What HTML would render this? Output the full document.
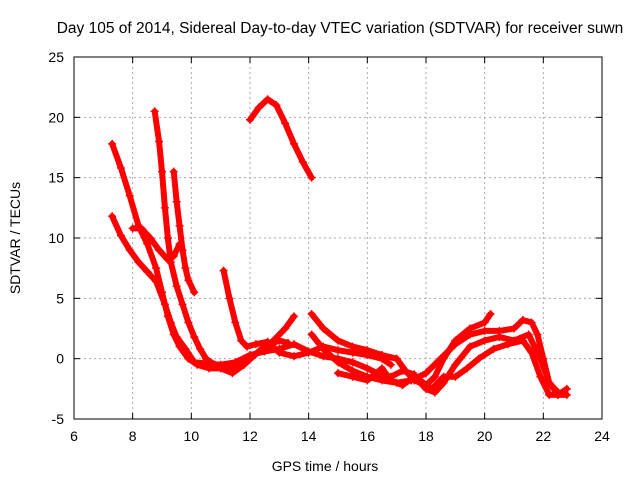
<!DOCTYPE html>
<html><head><meta charset="utf-8"><style>
body{margin:0;background:#fff}
svg{display:block;font-family:"Liberation Sans",sans-serif}
</style></head><body>
<svg id="chart" width="640" height="480">
<text x="340" y="33" text-anchor="middle" font-size="15.5">Day 105 of 2014, Sidereal Day-to-day VTEC variation (SDTVAR) for receiver suwn</text>
<text x="325" y="471" text-anchor="middle" font-size="14">GPS time / hours</text>
<text transform="translate(20,238) rotate(-90)" text-anchor="middle" font-size="14">SDTVAR / TECUs</text>
<g id="grid"></g><g id="ticks"></g><g id="marks"></g>
<rect x="74" y="57" width="528" height="362" fill="none" stroke="#000" stroke-width="1"/>
</svg>
<script>
const xTicks=[6,8,10,12,14,16,18,20,22,24];
const yTicks=[-5,0,5,10,15,20,25];
const sA=[[12.0,19.8],[12.3,20.8],[12.6,21.5],[12.9,21],[13.2,19.5],[13.5,17.8],[13.8,16.3],[14.1,15.0]];
const sB=[[7.3,17.8],[7.6,15.8],[7.9,13.5],[8.2,11],[8.5,9.5],[8.8,7.5],[9.0,5.5],[9.2,3.5],[9.4,2],[9.6,1],[9.9,0],[10.2,-0.5],[10.6,-0.8],[11.0,-0.8],[11.4,-1.2],[11.8,-0.5],[12.3,0.6],[12.8,1.5],[13.2,2.5],[13.5,3.5]];
const sC=[[7.3,11.8],[7.6,10.2],[7.9,9],[8.2,8],[8.5,7.2],[8.8,6.4],[9.1,4.5],[9.3,3],[9.5,1.8],[9.8,0.8],[10.1,-0.3],[10.5,-0.4],[11.0,-0.5],[11.5,-0.3],[12.0,0.3],[12.5,0.6],[13.0,0.8],[13.5,1.2],[14,0.6],[14.5,0.2],[15,0],[15.5,-0.3],[16,-0.8],[16.4,-1.3],[16.8,-1.5],[17.2,-1.0],[17.6,-1.3]];
const sD=[[8.0,10.8],[8.3,10.8],[8.6,10],[8.9,9],[9.2,8.2],[9.4,8.5],[9.6,9.5]];
const sE=[[8.75,20.5],[8.9,18],[9.0,15.5],[9.1,12.5],[9.2,10],[9.3,8],[9.5,6],[9.7,4.5],[9.9,3],[10.1,1.8],[10.3,0.8],[10.5,0],[10.8,-0.5],[11.1,-0.8],[11.5,-0.8],[12,0],[12.5,1],[13,1.5],[13.3,1.3]];
const sF=[[9.4,15.5],[9.5,13],[9.6,11],[9.7,9],[9.8,7.5],[9.9,6.5],[10.1,5.5]];
const sG=[[11.1,7.3],[11.3,5],[11.5,3],[11.7,1.5],[11.9,1],[12.2,1.2],[12.6,1.4],[13,0.5],[13.5,0.2],[14,0.5],[14.5,1],[15,0.7],[15.5,0.5],[16,0.3],[16.5,0.0],[16.8,-0.5]];
const sH=[[14.1,3.7],[14.5,2.5],[15,1.5],[15.5,1.0],[16,0.7],[16.5,0.3],[17,0],[17.3,-1],[17.6,-1.8],[18,-2.2],[18.3,-1.5],[18.6,0],[19,1.5],[19.5,2.5],[20,3],[20.2,3.7]];
const sI=[[14.1,2],[14.5,0.8],[15,-0.3],[15.5,-1],[16,-1.5],[16.5,-1.8],[17,-2],[17.5,-1.8],[18,-1.2],[18.5,0],[19,1.2],[19.5,2],[20,2.3],[20.5,2.3],[21,2.5],[21.3,3.2],[21.6,3],[21.8,2],[22,0],[22.2,-2],[22.5,-3],[22.8,-2.5]];
const sJ=[[15,-1.2],[15.5,-1.5],[16,-1.8],[16.5,-0.8],[16.8,-1.8],[17.2,-2.2],[17.6,-1.5],[18,-2.5],[18.3,-2.8],[18.6,-2],[19,-0.5],[19.5,1],[20,1.5],[20.5,1.8],[21,1.5],[21.5,2],[21.9,0],[22.2,-2],[22.5,-2.8],[22.7,-2.8]];
const sK=[[17.8,-1.8],[18.2,-2.5],[18.6,-1.5],[19,-1.5],[19.4,-0.8],[19.8,0],[20.3,0.8],[20.8,1.2],[21.3,1.5],[21.6,0.5],[21.9,-1.5],[22.2,-3],[22.5,-3],[22.8,-3]];
const series=[sA,sB,sC,sD,sE,sF,sG,sH,sI,sJ,sK];
const X=h=>74+(h-6)*528/18, Y=v=>419-(v+5)*362/30;
const NS='http://www.w3.org/2000/svg';
function mk(t,a,p){const e=document.createElementNS(NS,t);for(const k in a)e.setAttribute(k,a[k]);p.appendChild(e);return e;}
const grid=document.getElementById('grid'),ticks=document.getElementById('ticks'),marks=document.getElementById('marks');
xTicks.forEach(t=>{const x=X(t);
 if(t>6&&t<24){const g=mk('line',{x1:x,x2:x,y1:57,y2:419,stroke:'#aaa','stroke-dasharray':'2,3'},grid);
 
 }
 mk('line',{x1:x,x2:x,y1:419,y2:413,stroke:'#000'},ticks);mk('line',{x1:x,x2:x,y1:57,y2:63,stroke:'#000'},ticks);
 const l=mk('text',{x:x,y:441,'text-anchor':'middle','font-size':14},ticks);l.textContent=t;
 
 });
yTicks.forEach(t=>{const y=Y(t);
 if(t>-5&&t<25){const g=mk('line',{x1:74,x2:602,y1:y,y2:y,stroke:'#aaa','stroke-dasharray':'2,3'},grid);
 
 }
 mk('line',{x1:74,x2:80,y1:y,y2:y,stroke:'#000'},ticks);mk('line',{x1:602,x2:596,y1:y,y2:y,stroke:'#000'},ticks);
 const l=mk('text',{x:64,y:y+5,'text-anchor':'end','font-size':14},ticks);l.textContent=t;
 
 });
series.forEach((s,i)=>{
 const pl=mk('polyline',{points:s.map(p=>X(p[0])+','+Y(p[1])).join(' '),fill:'none',stroke:'#f00','stroke-width':6,'stroke-linejoin':'round','stroke-linecap':'round'},marks);
 
 
 s.forEach(p=>{const x=X(p[0]),y=Y(p[1]);
  const m=mk('path',{d:`M${x-4},${y}H${x+4}M${x},${y-4}V${y+4}`,stroke:'#f00','stroke-width':1.5},marks);
  
  });
});
</script>
</body></html>
